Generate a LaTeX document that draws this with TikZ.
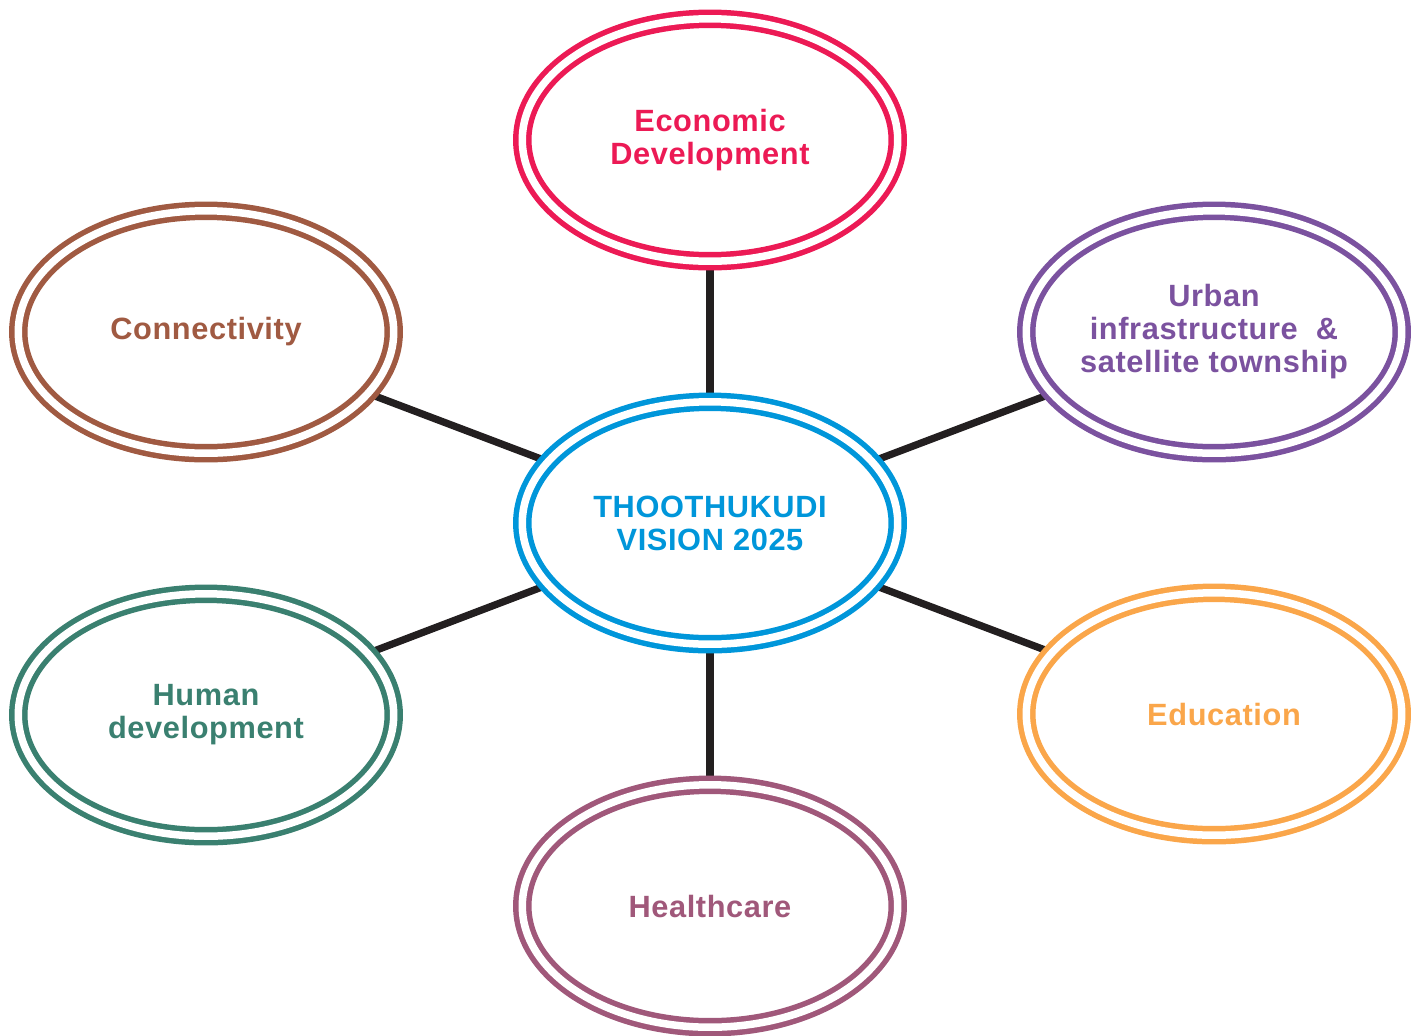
\documentclass[tikz,border=0pt]{standalone}
\usepackage{fontspec}
\setmainfont{Liberation Sans}[LetterSpace=2]
\usetikzlibrary{
	shapes.geometric,
	backgrounds,
}
\definecolor{VisionBlue}{HTML}{0096DA}
\definecolor{EconRed}{HTML}{EC1A55}
\definecolor{UrbanPurple}{HTML}{7B529F}
\definecolor{ConnBrown}{HTML}{A05A42}
\definecolor{HumanGreen}{HTML}{3A8070}
\definecolor{EduOrange}{HTML}{FAA64A}
\definecolor{HealthMauve}{HTML}{A0587A}
\definecolor{LinkBlack}{HTML}{231F20}

\begin{document}
\begin{tikzpicture}[x=0.02cm,y=-0.02cm,
			every node/.style={align=center,font=\bfseries\fontsize{17.5}{18.8}\selectfont},
			goal/.style={ellipse,draw=#1,text=#1,fill=white,double=white,line width=0.11cm,double distance=0.15cm,minimum width=7.51cm,minimum height=4.85cm,inner sep=0pt,inner xsep=-10pt},
			link/.style={line width=0.145cm,draw=LinkBlack},
		]
	\useasboundingbox (0,0) rectangle (1419,1035);

	\node (vision) [goal=VisionBlue] at (710,523) {THOOTHUKUDI\\VISION 2025};
	\node (econ) [goal=EconRed] at (710,140) {Economic\\Development};
	\node (urban) [goal=UrbanPurple] at (1214,332) {Urban\\infrastructure~~\&\\satellite township};
	\node (conn) [goal=ConnBrown] at (206,332) {Connectivity};
	\node (human) [goal=HumanGreen] at (206,715) {Human\\development};
	\node (edu) [goal=EduOrange] at (1214,714) {\hspace*{0.4cm}Education};
	\node (health) [goal=HealthMauve] at (710,906) {Healthcare};

	\begin{scope}[on background layer]
		\draw[link] (vision) -- (econ);
		\draw[link] (vision) -- (urban);
		\draw[link] (vision) -- (edu);
		\draw[link] (vision) -- (health);
		\draw[link] (vision) -- (human);
		\draw[link] (vision) -- (conn);
	\end{scope}
\end{tikzpicture}
\end{document}
